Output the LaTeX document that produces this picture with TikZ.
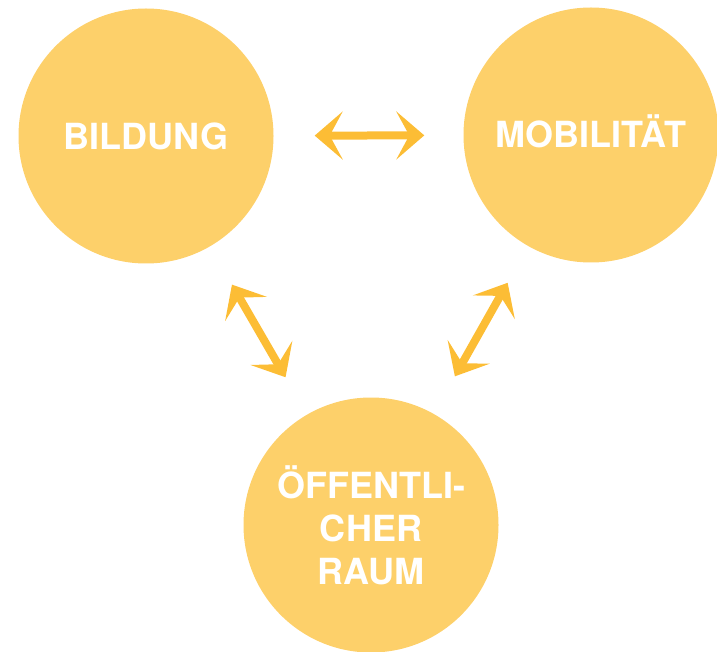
\documentclass[tikz,border=0pt]{standalone}
\usepackage{fontspec}
\setmainfont{TeX Gyre Heros}
\usetikzlibrary{arrows.meta}

\definecolor{topicfill}{HTML}{FDD06A}
\definecolor{linkcolor}{HTML}{FCBD35}

\begin{document}
\begin{tikzpicture}[
    x=1pt, y=-1pt,
    topic/.style={circle, fill=topicfill, minimum size=255pt, inner sep=0pt,
      text=white, align=center,
      font=\fontsize{36}{43}\selectfont\bfseries},
    link/.style={linkcolor, line width=8pt,
      {Stealth[length=28pt, width=48pt, inset=13pt]}-{Stealth[length=28pt, width=48pt, inset=13pt]},
      shorten <=43pt, shorten >=43pt}
  ]
    \useasboundingbox (0,0) rectangle (717,652);

    \node[topic] (bildung) at (146,136) {BILDUNG};
    \node[topic, text height=26pt, text depth=0pt] (mobil) at (591,135) {MOBILIT\"AT};
    \node[topic] (raum) at (371,525) {\"OFFENTLI-\\CHER\\RAUM};

    \draw[link, shorten <=41pt, shorten >=39pt] (bildung) -- (mobil);
    \draw[link, shorten <=44pt] (bildung) -- (raum);
    \draw[link, shorten <=42pt] (mobil) -- (raum);
  \end{tikzpicture}
\end{document}
